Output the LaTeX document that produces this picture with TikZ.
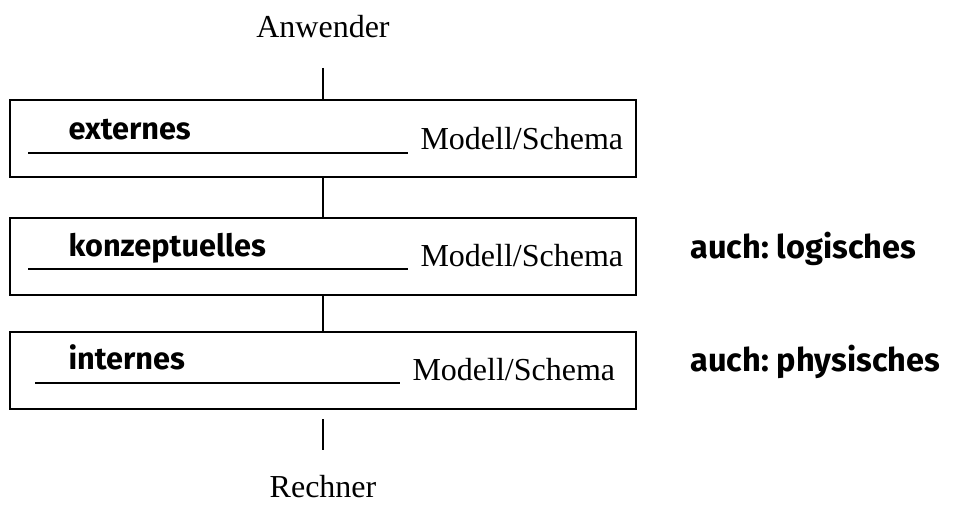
\documentclass[tikz,border=0pt]{standalone}
\usepackage{fontspec}
\setmainfont{Liberation Serif}
\newfontfamily\handfont{Fira Sans}

\begin{document}
\begin{tikzpicture}[x=0.375pt,y=-0.375pt,
    layer/.style={draw,line width=0.75pt,minimum width=235pt,minimum height=28.9pt,inner sep=0pt},
    kind/.style={anchor=base west,inner sep=0pt,font=\handfont\bfseries\fontsize{11.5}{13}\selectfont},
    model/.style={anchor=base west,inner sep=0pt,font=\fontsize{12}{14}\selectfont},
    side/.style={anchor=base west,inner sep=0pt,font=\handfont\bfseries\fontsize{12.2}{14}\selectfont},
    link/.style={line width=0.6pt}]

    % Fix the page size
    \useasboundingbox (0,0) rectangle (954,509);

    % User and computer
    \node (anwender) at (323,27) {\fontsize{12}{14}\selectfont Anwender};
    \node (rechner) at (323,487) {\fontsize{12}{14}\selectfont Rechner};

    % Draw the three layers
    \node[layer] (ext) at (323,138.5) {};
    \node[layer] (konz) at (323,256.5) {};
    \node[layer] (int) at (323,370.5) {};

    % Label the layers
    \node[kind] (extname) at (68,140) {externes};
    \draw[line width=0.5pt] (28,153) -- (408,153);
    \node[model] (extmodel) at (420,150) {Modell/Schema};

    \node[kind] (konzname) at (68,256) {konzeptuelles};
    \draw[line width=0.5pt] (28,269) -- (408,269);
    \node[model] (konzmodel) at (420,266) {Modell/Schema};

    \node[kind] (intname) at (68,369) {internes};
    \draw[line width=0.5pt] (35,383) -- (400,383);
    \node[model] (intmodel) at (412,380) {Modell/Schema};

    % Notes on the right
    \node[side] (logisch) at (690,258) {auch:\ logisches};
    \node[side] (physisch) at (690,371) {auch:\ physisches};

    % Connect everything
    \coordinate (top) at (323,68);
    \coordinate (bottom) at (323,450);
    \draw[link] (top) -- (ext.north);
    \draw[link] (ext.south) -- (konz.north);
    \draw[link] (konz.south) -- (int.north);
    \draw[link] (int.south) ++(0,9) -- (bottom);
\end{tikzpicture}
\end{document}
